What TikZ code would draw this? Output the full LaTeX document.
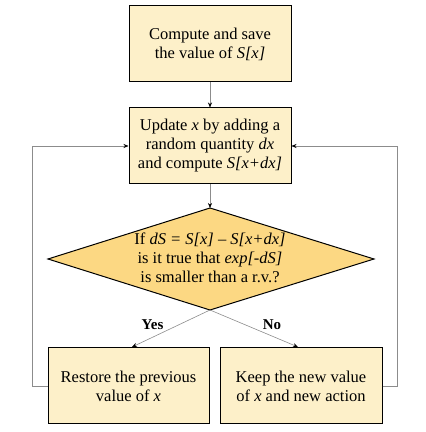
\documentclass[tikz,border=0pt]{standalone}
\usepackage{fontspec}
\setmainfont{Liberation Serif}
\usetikzlibrary{shapes.geometric,arrows.meta}
\definecolor{boxfill}{HTML}{FDF0C9}
\definecolor{diafill}{HTML}{FCD883}
\definecolor{linegray}{HTML}{8C8C8C}
\tikzset{
  txt/.style={font=\fontsize{16.5}{19}\selectfont},
  procbox/.style={draw=black, line width=1pt, fill=boxfill, minimum width=162pt, minimum height=76pt, align=center, inner sep=2pt, txt},
  conn/.style={draw=linegray, line width=0.6pt, -{Stealth[length=5pt,width=4pt,color=black]}},
  lbl/.style={font=\fontsize{15}{16}\selectfont\bfseries}
}
\begin{document}
\begin{tikzpicture}[x=1pt,y=1pt]
\useasboundingbox (0,0) rectangle (426,432);
\node[procbox] (compute) at (210,388) {Compute and save\\the value of \textit{S[x]}};
\node[procbox] (update) at (210,286) {Update \textit{x} by adding a\\random quantity \textit{dx}\\and compute \textit{S[x+dx]}};
\coordinate (dtop) at (210,224);
\coordinate (dleft) at (48,173);
\coordinate (dright) at (374,173);
\coordinate (dbot) at (210,122);
\path[draw=black, line width=1pt, fill=diafill] (dleft) -- (dtop) -- (dright) -- (dbot) -- cycle;
\node[align=center, txt] (test) at (210,174) {If \textit{dS = S[x] -- S[x+dx]}\\is it true that \textit{exp[-dS]}\\is smaller than a r.v.?};
\node[procbox, minimum width=161pt] (restore) at (128.5,46) {Restore the previous\\value of \textit{x}};
\node[procbox, minimum width=162pt] (keep) at (301,46) {Keep the new value\\of \textit{x} and new action};
\coordinate (ytip) at (132,85);
\coordinate (ntip) at (298,85);
\coordinate (lc) at (32,46);
\coordinate (rc) at (397,46);
\draw[conn] (compute.south) -- (update.north);
\draw[conn] (update.south) -- (dtop);
\draw[conn] (dbot) -- (ytip);
\draw[conn] (dbot) -- (ntip);
\node[lbl] (yes) at (152.5,107) {Yes};
\node[lbl] (no) at (272,107) {No};
\draw[conn] (restore.west) -- (lc) |- (update.west);
\draw[conn] (keep.east) -- (rc) |- (update.east);
\end{tikzpicture}
\end{document}
